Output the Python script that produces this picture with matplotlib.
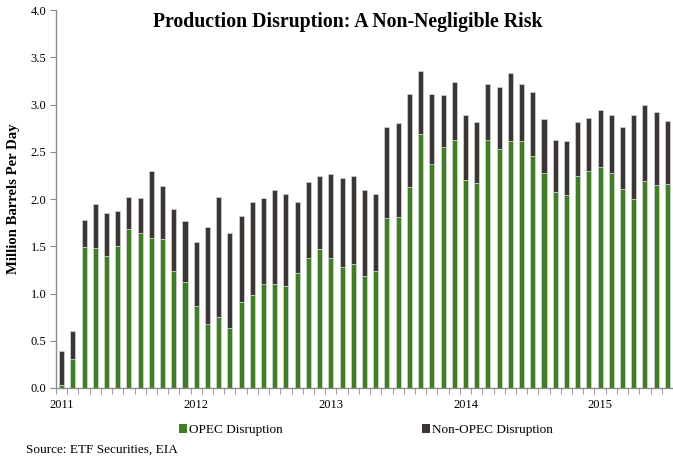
import matplotlib
matplotlib.use("Agg")
import matplotlib.pyplot as plt
import numpy as np
from matplotlib.patches import Patch

plt.rcParams['font.family'] = ['Liberation Serif', 'DejaVu Serif']

years = ["2011", "2012", "2013", "2014", "2015"]
opec = [0.03, 0.31, 1.49, 1.48, 1.40, 1.50, 1.68, 1.64, 1.59, 1.58, 1.24, 1.12,
        0.87, 0.68, 0.75, 0.63, 0.91, 0.98, 1.10, 1.10, 1.08, 1.22, 1.38, 1.47,
        1.38, 1.28, 1.31, 1.19, 1.24, 1.80, 1.81, 2.13, 2.69, 2.37, 2.55, 2.62,
        2.20, 2.17, 2.62, 2.53, 2.61, 2.61, 2.46, 2.27, 2.07, 2.04, 2.24, 2.30,
        2.34, 2.28, 2.11, 2.00, 2.19, 2.15, 2.16]
non_opec = [0.36, 0.29, 0.29, 0.47, 0.45, 0.37, 0.34, 0.37, 0.71, 0.56, 0.65, 0.65,
            0.67, 1.02, 1.27, 1.01, 0.91, 0.99, 0.91, 1.00, 0.97, 0.75, 0.80, 0.77,
            0.88, 0.94, 0.93, 0.91, 0.81, 0.96, 0.99, 0.98, 0.66, 0.74, 0.55, 0.62,
            0.69, 0.64, 0.60, 0.66, 0.72, 0.61, 0.67, 0.58, 0.55, 0.57, 0.58, 0.56,
            0.60, 0.61, 0.65, 0.89, 0.81, 0.77, 0.67]
y_ticks = [0.0, 0.5, 1.0, 1.5, 2.0, 2.5, 3.0, 3.5, 4.0]

green = '#3f7e24'
dark = '#3b3633'
axis_gray = '#8c8c8c'

fig = plt.figure(figsize=(6.73, 4.59), dpi=100)
W, H = 673, 459
ax = fig.add_axes([56 / W, 1 - 388 / H, 617 / W, 378 / H])

x = np.arange(len(opec))
ax.bar(x, opec, width=0.45, color=green, edgecolor='#d5d5d5', linewidth=0.5)
ax.bar(x, non_opec, bottom=opec, width=0.45, color=dark, edgecolor='#d5d5d5', linewidth=0.5)

ax.set_xlim(-0.5, -0.5 + 617 / 11.28)
ax.set_ylim(0, 4.0)
ax.set_yticks(y_ticks)
ax.set_yticklabels([f"{v:.1f}" for v in y_ticks], fontsize=9)

ax.set_xticks(np.arange(0, len(opec), 12))
ax.set_xticklabels(years, fontsize=9)
ax.set_xticks(np.arange(-0.5, len(opec), 1), minor=True)
ax.tick_params(axis='x', which='major', length=0, pad=8)
ax.tick_params(axis='x', which='minor', length=4, color=axis_gray, direction='out')
ax.tick_params(axis='y', length=4, color=axis_gray, direction='out', pad=3)

for s in ['top', 'right']:
    ax.spines[s].set_visible(False)
for s in ['left', 'bottom']:
    ax.spines[s].set_color(axis_gray)
    ax.spines[s].set_linewidth(1.0)

fig.text(348 / W, 1 - 22 / H, "Production Disruption: A Non-Negligible Risk",
         ha='center', va='center', fontsize=14.2, fontweight='bold')
fig.text(14 / W, 1 - 199 / H, "Million Barrels Per Day", rotation=90,
         ha='center', va='center', fontsize=10.6, fontweight='bold')

handles = [Patch(facecolor=green, edgecolor='none', label='OPEC Disruption'),
           Patch(facecolor=dark, edgecolor='none', label='Non-OPEC Disruption')]
fig.legend(handles=handles, loc='center', bbox_to_anchor=(366 / W, 1 - 430 / H),
           ncol=2, frameon=False, fontsize=9.5, handlelength=0.6, handleheight=0.6,
           handletextpad=0.2, columnspacing=10.5)

fig.text(26 / W, 1 - 450 / H, "Source: ETF Securities, EIA", ha='left', va='center', fontsize=9.5)

fig.savefig("out.png", dpi=100)
